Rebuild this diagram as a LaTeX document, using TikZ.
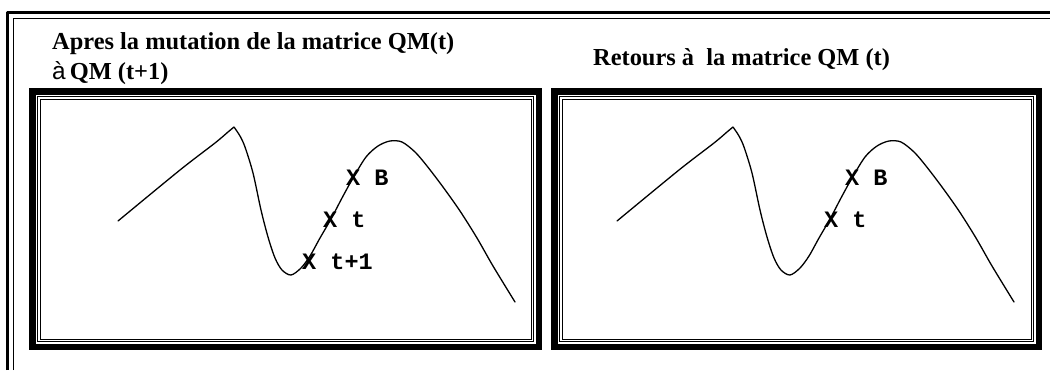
\documentclass[tikz,border=0pt]{standalone}
\usepackage{fontspec}
\setmainfont{Liberation Serif}
\setmonofont{Liberation Mono}
\newfontfamily\arialfont{Liberation Sans}
\tikzset{
  every picture/.style={line join=round, line cap=round},
  titre/.style={font=\fontsize{24.4}{29}\selectfont\bfseries, inner sep=0pt, anchor=base west},
  marque/.style={font=\fontsize{23.5}{28}\selectfont\ttfamily\bfseries, inner sep=0pt, anchor=west},
  cadre/.style={line width=6.5pt, line cap=butt, line join=miter},
  filet/.style={line width=1pt, line cap=butt, line join=miter},
}

\begin{document}
\begin{tikzpicture}[x=1pt,y=-1pt]
\useasboundingbox (0,0) rectangle (1050,370);
% double frame round the page
\draw[line width=2.5pt, line cap=butt] (7.7,370)--(7.7,12.5)--(1050,12.5);
\draw[line width=1.5pt, line cap=butt] (13.7,370)--(13.7,18.3)--(1050,18.3);
% the two windows
\foreach \xa/\xb in {29/542,551/1042}{
  \draw[cadre] ({\xa+3.25},91.25) rectangle ({\xb-3.25},346.75);
  \draw[filet] ({\xa+8.5},96.5) rectangle ({\xb-8.5},341.5);
  \draw[filet] ({\xa+11},99) rectangle ({\xb-11},339);
}
% titles
\node[titre] (ta) at (52,49) {Apres la mutation de la matrice QM(t)};
\node[titre] (tb) at (52,79) {{\arialfont\mdseries à}\,QM (t+1)};
\node[titre] (tc) at (593,65) {Retours à\ \ la matrice QM (t)};
% the function, same in both windows
\foreach \dx in {0,499}{
\begin{scope}[xshift=\dx]
\draw[line width=1.3pt] plot[smooth] coordinates {(118,221) (180,170) (215,143) (228,132) (234,127)}
  plot[smooth] coordinates {(234,127) (240,136) (245,147) (253,173) (261,210) (268,237) (275,258) (282,270)
  (291,275) (301,268) (310,256) (320,238) (331,219) (342,198) (353,178) (366,157) (378,146) (390,141)
  (402,142) (415,152) (427,166) (443,187) (460,211) (477,238) (493,266) (515,302)};
\end{scope}
}
% points on the curve
\node[marque] (b1) at (346,178) {X B};
\node[marque] (t1) at (323,220) {X t};
\node[marque] (n1) at (302,262) {X t+1};
\node[marque] (b2) at (845,178) {X B};
\node[marque] (t2) at (824,220) {X t};
\end{tikzpicture}
\end{document}
